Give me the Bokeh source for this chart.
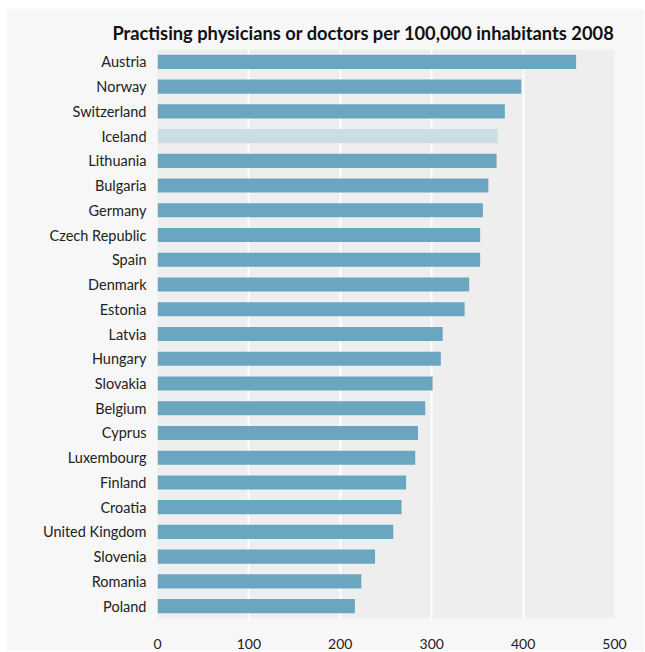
from bokeh.plotting import figure
from bokeh.models import ColumnDataSource, FactorRange, Range1d, FixedTicker
from bokeh.embed import file_html
from bokeh.resources import INLINE

countries = ["Austria", "Norway", "Switzerland", "Iceland", "Lithuania", "Bulgaria",
             "Germany", "Czech Republic", "Spain", "Denmark", "Estonia", "Latvia",
             "Hungary", "Slovakia", "Belgium", "Cyprus", "Luxembourg", "Finland",
             "Croatia", "United Kingdom", "Slovenia", "Romania", "Poland"]
values = [458, 398, 380, 372, 371, 362, 356, 353, 353, 341, 336, 312,
          310, 301, 293, 285, 282, 272, 267, 258, 238, 223, 216]
highlight = ["Iceland"]
x_ticks = [0, 100, 200, 300, 400, 500]

BAR = "#6aa6c0"
HL = "#c9dde5"
colors = [HL if c in highlight else BAR for c in countries]

src = ColumnDataSource(dict(country=countries, value=values, color=colors))

p = figure(width=638, height=643, output_backend="svg", toolbar_location=None,
           y_range=FactorRange(factors=list(reversed(countries)), range_padding=0),
           x_range=Range1d(0, 500),
           title="Practising physicians or doctors per 100,000 inhabitants 2008",
           min_border_left=151, min_border_right=30, min_border_top=41, min_border_bottom=32)
p.margin = (8, 0, 0, 6)

p.hbar(y="country", right="value", left=0, height=0.57, color="color", source=src, line_color=None)

p.background_fill_color = "#eeeeee"
p.border_fill_color = "#f7f7f7"
p.outline_line_color = None

p.title.align = "right"
p.title.text_font = "Lato"
p.title.text_font_size = "18.3px"
p.title.text_font_style = "bold"
p.title.text_color = "#111111"
p.title.standoff = 12

p.xgrid.ticker = FixedTicker(ticks=x_ticks)
p.xaxis.ticker = FixedTicker(ticks=x_ticks)
p.xgrid.grid_line_color = "white"
p.xgrid.grid_line_width = 2
p.ygrid.grid_line_color = None

for ax in (p.xaxis[0], p.yaxis[0]):
    ax.axis_line_color = None
    ax.major_tick_line_color = None
    ax.minor_tick_line_color = None
    ax.major_label_text_font = "Lato"
    ax.major_label_text_color = "#222222"

p.yaxis.major_label_text_font_size = "14.5px"
p.xaxis.major_label_text_font_size = "14px"
p.yaxis.major_label_standoff = 5
p.xaxis.major_label_standoff = 14

open("out.html", "w").write(file_html(p, INLINE))
